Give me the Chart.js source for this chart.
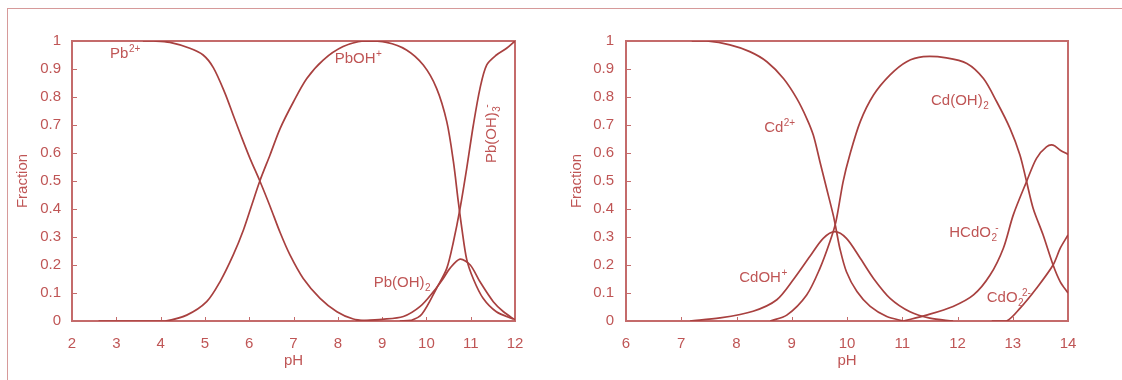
<!DOCTYPE html>
<html>
<head>
<meta charset="utf-8">
<script src="https://cdn.jsdelivr.net/npm/chart.js@4.4.1/dist/chart.umd.min.js"></script>
<style>
  html, body { margin: 0; padding: 0; background: #fff; }
  #wrap { position: relative; width: 1122px; height: 380px; overflow: hidden; }
  #edge { position: absolute; left: 7px; top: 8px; right: -4px; bottom: -4px;
          border-top: 1px solid #d69a9a; border-left: 1px solid #d69a9a; }
  .box { position: absolute; top: 0; }
</style>
</head>
<body>
<div id="wrap">
  <div id="edge"></div>
  <div class="box" style="left:0"><canvas id="pbChart" width="560" height="380"></canvas></div>
  <div class="box" style="left:560px"><canvas id="cdChart" width="562" height="380"></canvas></div>
</div>
<script>
// tick values
const fracTicks = [0, 0.1, 0.2, 0.3, 0.4, 0.5, 0.6, 0.7, 0.8, 0.9, 1];
const pbTicks = [2, 3, 4, 5, 6, 7, 8, 9, 10, 11, 12];
const cdTicks = [6, 7, 8, 9, 10, 11, 12, 13, 14];

// lead species (pH, fraction)
const pb2pH   = [3.6, 3.84, 4.21, 4.66, 4.96, 5.19, 5.45, 5.64, 5.82, 6.02, 6.24, 6.47, 6.7, 6.92, 7.22, 7.6, 7.98, 8.35, 8.73];
const pb2Frac = [1, 1, 0.995, 0.974, 0.95, 0.905, 0.815, 0.735, 0.66, 0.58, 0.5, 0.41, 0.315, 0.236, 0.152, 0.081, 0.033, 0.007, 0];

const pbohPH   = [2.6, 3.7, 4.1, 4.59, 5.04, 5.34, 5.64, 5.87, 6.06, 6.24, 6.47, 6.7, 7.0, 7.3, 7.67, 8.12, 8.58, 9.1, 9.55, 9.93, 10.23, 10.46, 10.61, 10.72, 10.8, 10.91, 11.06, 11.28, 11.58, 11.96];
const pbohFrac = [0, 0, 0, 0.021, 0.069, 0.14, 0.236, 0.325, 0.415, 0.5, 0.593, 0.688, 0.783, 0.866, 0.932, 0.98, 1, 0.995, 0.968, 0.914, 0.831, 0.712, 0.569, 0.426, 0.331, 0.22, 0.15, 0.081, 0.033, 0.007];

const pboh2PH   = [8.4, 9.0, 9.48, 9.86, 10.16, 10.38, 10.53, 10.76, 10.99, 11.21, 11.51, 11.74, 12];
const pboh2Frac = [0, 0.006, 0.016, 0.052, 0.105, 0.152, 0.188, 0.221, 0.2, 0.14, 0.069, 0.033, 0.004];

const pboh3PH   = [9.4, 9.65, 9.9, 10.23, 10.46, 10.61, 10.76, 10.91, 11.06, 11.21, 11.36, 11.58, 11.81, 12];
const pboh3Frac = [0, 0.002, 0.025, 0.117, 0.188, 0.283, 0.402, 0.545, 0.7, 0.831, 0.914, 0.95, 0.974, 1.0];

// cadmium species
const cd2pH   = [7.19, 7.46, 7.88, 8.24, 8.55, 8.85, 9.09, 9.27, 9.39, 9.51, 9.63, 9.75, 9.8, 9.87, 9.99, 10.18, 10.42, 10.72, 11.02];
const cd2Frac = [1, 1, 0.986, 0.962, 0.926, 0.866, 0.795, 0.724, 0.664, 0.569, 0.474, 0.379, 0.331, 0.26, 0.176, 0.105, 0.052, 0.016, 0];

const cdohPH   = [7.16, 7.7, 8.3, 8.73, 9.03, 9.33, 9.57, 9.78, 9.99, 10.24, 10.48, 10.78, 11.14, 11.5, 11.92];
const cdohFrac = [0, 0.011, 0.035, 0.076, 0.148, 0.231, 0.295, 0.319, 0.295, 0.224, 0.152, 0.081, 0.033, 0.01, 0];

const cdoh2PH   = [8.61, 8.91, 9.27, 9.51, 9.69, 9.8, 9.93, 10.05, 10.24, 10.48, 10.78, 11.08, 11.38, 11.8, 12.17, 12.47, 12.71, 12.95, 13.13, 13.25, 13.37, 13.55, 13.73, 13.86, 14];
const cdoh2Frac = [0, 0.021, 0.093, 0.188, 0.283, 0.355, 0.498, 0.593, 0.712, 0.807, 0.879, 0.926, 0.944, 0.94, 0.92, 0.866, 0.783, 0.688, 0.593, 0.498, 0.402, 0.307, 0.2, 0.14, 0.1];

const hcdo2PH   = [11.02, 11.44, 11.92, 12.29, 12.59, 12.83, 13.01, 13.25, 13.43, 13.61, 13.73, 13.86, 14];
const hcdo2Frac = [0, 0.021, 0.052, 0.093, 0.164, 0.26, 0.379, 0.498, 0.581, 0.622, 0.628, 0.61, 0.595];

const cdo2PH   = [12.62, 12.89, 13.13, 13.43, 13.73, 13.86, 14];
const cdo2Frac = [0, 0, 0.045, 0.117, 0.2, 0.26, 0.307];

// species names, placed at (pH, fraction)
const pbLabels = [
    { text: 'Pb', sup: '2+', x: 2.86, y: 0.939 },
    { text: 'PbOH', sup: '+', x: 7.93, y: 0.921 },
    { text: 'Pb(OH)', sub: '2', x: 8.81, y: 0.121 },
    { text: 'Pb(OH)', sub: '3', sup: '-', x: 11.57, y: 0.564, rotate: true }
];
const cdLabels = [
    { text: 'Cd', sup: '2+', x: 8.5, y: 0.675 },
    { text: 'Cd(OH)', sub: '2', x: 11.52, y: 0.771 },
    { text: 'CdOH', sup: '+', x: 8.05, y: 0.139 },
    { text: 'HCdO', sub: '2', sup: '-', x: 11.85, y: 0.3 },
    { text: 'CdO', sub: '2', sup: '2-', x: 12.53, y: 0.068 }
];

const lineColor = '#a8403f';
const frameColor = '#c46b6b';
const textColor = '#bf5555';
const fontFamily = '"Liberation Sans", Arial, sans-serif';

function pairs(xs, ys) {
    return xs.map((x, i) => ({ x: x, y: ys[i] }));
}

function series(xs, ys) {
    return {
        data: pairs(xs, ys),
        borderColor: lineColor,
        borderWidth: 1.7,
        pointRadius: 0,
        fill: false,
        tension: 0.3
    };
}

// box round the plot area plus short inward ticks on the left and bottom
const framePlugin = {
    id: 'frame',
    beforeDatasetsDraw(chart) {
        const ctx = chart.ctx;
        const a = chart.chartArea;
        ctx.save();
        ctx.strokeStyle = frameColor;
        ctx.lineWidth = 2;
        ctx.strokeRect(a.left, a.top, a.right - a.left, a.bottom - a.top);
        ctx.lineWidth = 1;
        chart.scales.x.ticks.forEach(t => {
            const px = Math.round(chart.scales.x.getPixelForValue(t.value)) + 0.5;
            ctx.beginPath();
            ctx.moveTo(px, a.bottom);
            ctx.lineTo(px, a.bottom - 4);
            ctx.stroke();
        });
        chart.scales.y.ticks.forEach(t => {
            const py = Math.round(chart.scales.y.getPixelForValue(t.value)) + 0.5;
            ctx.beginPath();
            ctx.moveTo(a.left, py);
            ctx.lineTo(a.left + 5, py);
            ctx.stroke();
        });
        ctx.restore();
    }
};

const labelPlugin = {
    id: 'speciesLabels',
    afterDatasetsDraw(chart, args, opts) {
        const ctx = chart.ctx;
        const big = '15px ' + fontFamily;
        const small = '10px ' + fontFamily;
        ctx.save();
        ctx.fillStyle = textColor;
        ctx.textBaseline = 'alphabetic';
        ctx.textAlign = 'left';
        (opts.items || []).forEach(item => {
            const px = chart.scales.x.getPixelForValue(item.x);
            const py = chart.scales.y.getPixelForValue(item.y);
            ctx.save();
            ctx.translate(px, py);
            if (item.rotate) ctx.rotate(-Math.PI / 2);
            ctx.font = big;
            ctx.fillText(item.text, 0, 0);
            let w = ctx.measureText(item.text).width;
            ctx.font = small;
            if (item.sub) {
                ctx.fillText(item.sub, w + 0.5, 4);
                if (item.sup) w += ctx.measureText(item.sub).width * 0.7;
            }
            if (item.sup) {
                ctx.fillText(item.sup, w + 0.5, -6);
            }
            ctx.restore();
        });
        ctx.restore();
    }
};

function makeChart(id, datasets, xTicks, labels, padRight, yWidth, yTickPad, yTitlePad) {
    const ctx = document.getElementById(id).getContext('2d');
    return new Chart(ctx, {
        type: 'line',
        data: { datasets: datasets },
        plugins: [framePlugin, labelPlugin],
        options: {
            responsive: false,
            animation: false,
            layout: { padding: { top: 41, right: padRight, left: 0, bottom: 0 } },
            plugins: {
                legend: { display: false },
                tooltip: { enabled: false },
                speciesLabels: { items: labels }
            },
            scales: {
                x: {
                    type: 'linear',
                    min: xTicks[0],
                    max: xTicks[xTicks.length - 1],
                    afterBuildTicks: s => { s.ticks = xTicks.map(v => ({ value: v })); },
                    afterFit: s => { s.height = 59; },
                    grid: { display: false, drawTicks: false },
                    border: { display: false },
                    ticks: {
                        padding: 14,
                        color: textColor,
                        font: { family: fontFamily, size: 15 }
                    },
                    title: {
                        display: true,
                        text: 'pH',
                        color: textColor,
                        font: { family: fontFamily, size: 15 },
                        padding: { top: 0, bottom: 10 }
                    }
                },
                y: {
                    min: 0,
                    max: 1,
                    afterBuildTicks: s => { s.ticks = fracTicks.map(v => ({ value: v })); },
                    afterFit: s => { s.width = yWidth; },
                    grid: { display: false, drawTicks: false },
                    border: { display: false },
                    ticks: {
                        padding: yTickPad,
                        color: textColor,
                        font: { family: fontFamily, size: 15 },
                        callback: v => String(v)
                    },
                    title: {
                        display: true,
                        text: 'Fraction',
                        color: textColor,
                        font: { family: fontFamily, size: 15 },
                        padding: { top: yTitlePad, bottom: 0 }
                    }
                }
            }
        }
    });
}

makeChart('pbChart', [
    series(pb2pH, pb2Frac),
    series(pbohPH, pbohFrac),
    series(pboh2PH, pboh2Frac),
    series(pboh3PH, pboh3Frac)
], pbTicks, pbLabels, 45, 72, 11, 14);

makeChart('cdChart', [
    series(cd2pH, cd2Frac),
    series(cdohPH, cdohFrac),
    series(cdoh2PH, cdoh2Frac),
    series(hcdo2PH, hcdo2Frac),
    series(cdo2PH, cdo2Frac)
], cdTicks, cdLabels, 54, 66, 12, 8);
</script>
</body>
</html>
